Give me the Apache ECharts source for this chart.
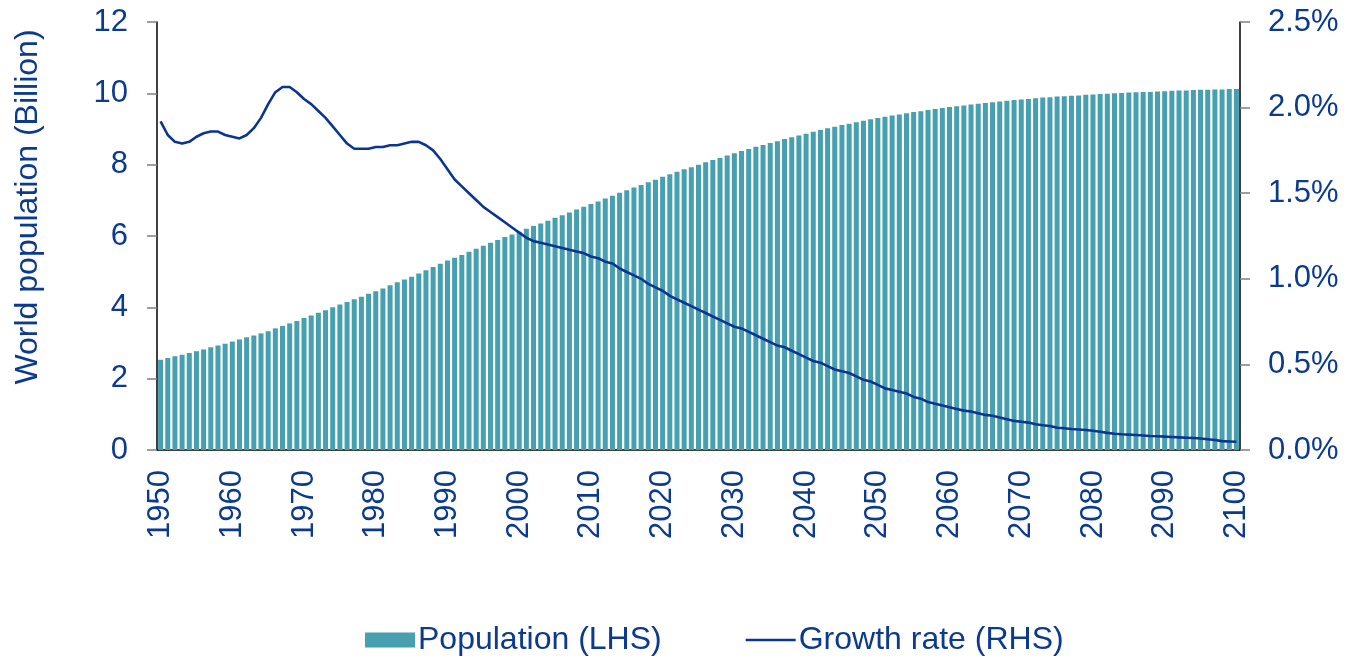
<!DOCTYPE html>
<html>
<head>
<meta charset="utf-8">
<script src="https://cdn.jsdelivr.net/npm/echarts@6/dist/echarts.min.js"></script>
<style>
  html, body { margin: 0; padding: 0; background: #ffffff; }
  #chart { width: 1349px; height: 658px; }
</style>
</head>
<body>
<div id="chart"></div>
<script>
// Years shown on the category axis
const years = [];
for (let y = 1950; y <= 2100; y++) years.push(String(y));

// World population, billions (one value per year, 1950-2100)
const population = [
  2.53, 2.58, 2.63, 2.67, 2.72, 2.77, 2.82, 2.88, 2.93, 2.98,
  3.04, 3.10, 3.16, 3.21, 3.27, 3.33, 3.41, 3.48, 3.55, 3.62,
  3.70, 3.77, 3.85, 3.92, 4.00, 4.08, 4.15, 4.23, 4.30, 4.38,
  4.45, 4.53, 4.62, 4.70, 4.78, 4.86, 4.95, 5.04, 5.13, 5.22,
  5.31, 5.39, 5.47, 5.56, 5.64, 5.73, 5.81, 5.89, 5.97, 6.04,
  6.12, 6.20, 6.28, 6.35, 6.43, 6.51, 6.58, 6.66, 6.74, 6.82,
  6.90, 6.97, 7.05, 7.13, 7.21, 7.28, 7.36, 7.43, 7.51, 7.58,
  7.66, 7.73, 7.80, 7.87, 7.93, 8.00, 8.07, 8.13, 8.19, 8.26,
  8.32, 8.38, 8.44, 8.50, 8.55, 8.61, 8.66, 8.72, 8.77, 8.82,
  8.87, 8.92, 8.97, 9.02, 9.06, 9.11, 9.15, 9.19, 9.23, 9.27,
  9.31, 9.34, 9.38, 9.41, 9.44, 9.48, 9.50, 9.53, 9.56, 9.59,
  9.62, 9.64, 9.66, 9.69, 9.71, 9.73, 9.75, 9.77, 9.79, 9.81,
  9.83, 9.84, 9.86, 9.88, 9.89, 9.91, 9.92, 9.93, 9.94, 9.96,
  9.97, 9.98, 9.99, 10.00, 10.01, 10.02, 10.03, 10.04, 10.04, 10.05,
  10.06, 10.07, 10.08, 10.08, 10.09, 10.10, 10.10, 10.11, 10.11, 10.12,
  10.12
];

// Annual growth rate, percent (one value per year, 1950-2100)
const growthRate = [
  1.92, 1.84, 1.80, 1.79, 1.80, 1.83, 1.85, 1.86, 1.86, 1.84,
  1.83, 1.82, 1.84, 1.88, 1.94, 2.02, 2.09, 2.12, 2.12, 2.09,
  2.05, 2.02, 1.98, 1.94, 1.89, 1.84, 1.79, 1.76, 1.76, 1.76,
  1.77, 1.77, 1.78, 1.78, 1.79, 1.80, 1.80, 1.78, 1.75, 1.70,
  1.64, 1.58, 1.54, 1.50, 1.46, 1.42, 1.39, 1.36, 1.33, 1.30,
  1.27, 1.24, 1.22, 1.21, 1.20, 1.19, 1.18, 1.17, 1.16, 1.15,
  1.13, 1.12, 1.10, 1.09, 1.06, 1.04, 1.02, 1.00, 0.97, 0.95,
  0.93, 0.90, 0.88, 0.86, 0.84, 0.82, 0.80, 0.78, 0.76, 0.74,
  0.72, 0.71, 0.69, 0.67, 0.65, 0.63, 0.61, 0.60, 0.58, 0.56,
  0.54, 0.52, 0.51, 0.49, 0.47, 0.46, 0.45, 0.43, 0.41, 0.40,
  0.38, 0.36, 0.35, 0.34, 0.33, 0.31, 0.30, 0.28, 0.27, 0.26,
  0.25, 0.24, 0.23, 0.225, 0.215, 0.205, 0.20, 0.19, 0.18, 0.17,
  0.165, 0.16, 0.15, 0.145, 0.14, 0.13, 0.127, 0.123, 0.12, 0.117,
  0.112, 0.107, 0.10, 0.095, 0.092, 0.09, 0.088, 0.085, 0.082, 0.08,
  0.078, 0.076, 0.074, 0.072, 0.07, 0.067, 0.063, 0.058, 0.052, 0.05,
  0.048
];

const leftTicks = { min: 0, max: 12, interval: 2 };
const rightTicks = { min: 0, max: 2.5, interval: 0.5 };

const seriesNames = ['Population (LHS)', 'Growth rate (RHS)'];
const axisTitle = 'World population (Billion)';

const textColor = '#0b3a8e';
const barColor = '#46a0b0';
const lineColor = '#0a3592';
const fontFamily = '"Liberation Sans", Arial, Helvetica, sans-serif';

const chart = echarts.init(document.getElementById('chart'), null, { renderer: 'canvas' });

chart.setOption({
  animation: false,
  backgroundColor: '#ffffff',
  textStyle: { fontFamily: fontFamily, color: textColor },
  grid: { left: 157, right: 109, top: 22, bottom: 208, containLabel: false },
  legend: {
    left: 365,
    top: 624,
    itemWidth: 50,
    itemHeight: 15,
    itemGap: 84,
    padding: 0,
    textStyle: { fontFamily: fontFamily, fontSize: 32, color: textColor, padding: [0, 0, 0, -2] },
    data: [
      { name: seriesNames[0], icon: 'rect' },
      // plain line swatch for the growth-rate series
      { name: seriesNames[1], icon: 'path://M0,0 L50,0 L50,2.6 L0,2.6 Z', itemStyle: { color: lineColor } }
    ]
  },
  graphic: [{
    type: 'text',
    x: 28,
    y: 207,
    rotation: Math.PI / 2,
    style: {
      text: axisTitle,
      fontFamily: fontFamily,
      fontSize: 32,
      fill: textColor,
      align: 'center',
      verticalAlign: 'middle'
    }
  }],
  xAxis: {
    type: 'category',
    data: years,
    boundaryGap: true,
    axisLine: { show: true, lineStyle: { color: '#000000', width: 1.5 } },
    axisTick: { show: false },
    axisLabel: {
      interval: 9,
      rotate: 90,
      margin: 20,
      fontSize: 31,
      color: textColor,
      fontFamily: fontFamily
    },
    splitLine: { show: false }
  },
  yAxis: [
    {
      type: 'value',
      position: 'left',
      min: leftTicks.min,
      max: leftTicks.max,
      interval: leftTicks.interval,
      axisLine: { show: true, lineStyle: { color: '#000000', width: 1.5 } },
      axisTick: { show: true, inside: false, length: 10, lineStyle: { color: '#808080', width: 1.5 } },
      axisLabel: { margin: 29, fontSize: 31, color: textColor, fontFamily: fontFamily },
      splitLine: { show: false }
    },
    {
      type: 'value',
      position: 'right',
      min: rightTicks.min,
      max: rightTicks.max,
      interval: rightTicks.interval,
      axisLine: { show: true, lineStyle: { color: '#000000', width: 1.5 } },
      axisTick: { show: true, inside: false, length: 10, lineStyle: { color: '#808080', width: 1.5 } },
      axisLabel: {
        margin: 28,
        fontSize: 31,
        color: textColor,
        fontFamily: fontFamily,
        formatter: v => v.toFixed(1) + '%'
      },
      splitLine: { show: false }
    }
  ],
  series: [
    {
      name: seriesNames[0],
      type: 'bar',
      yAxisIndex: 0,
      data: population,
      barCategoryGap: '30%',
      itemStyle: { color: barColor },
      z: 2
    },
    {
      name: seriesNames[1],
      type: 'line',
      yAxisIndex: 1,
      data: growthRate,
      symbol: 'none',
      smooth: false,
      lineStyle: { color: lineColor, width: 2.6 },
      itemStyle: { color: lineColor },
      z: 3
    }
  ]
});
</script>
</body>
</html>
